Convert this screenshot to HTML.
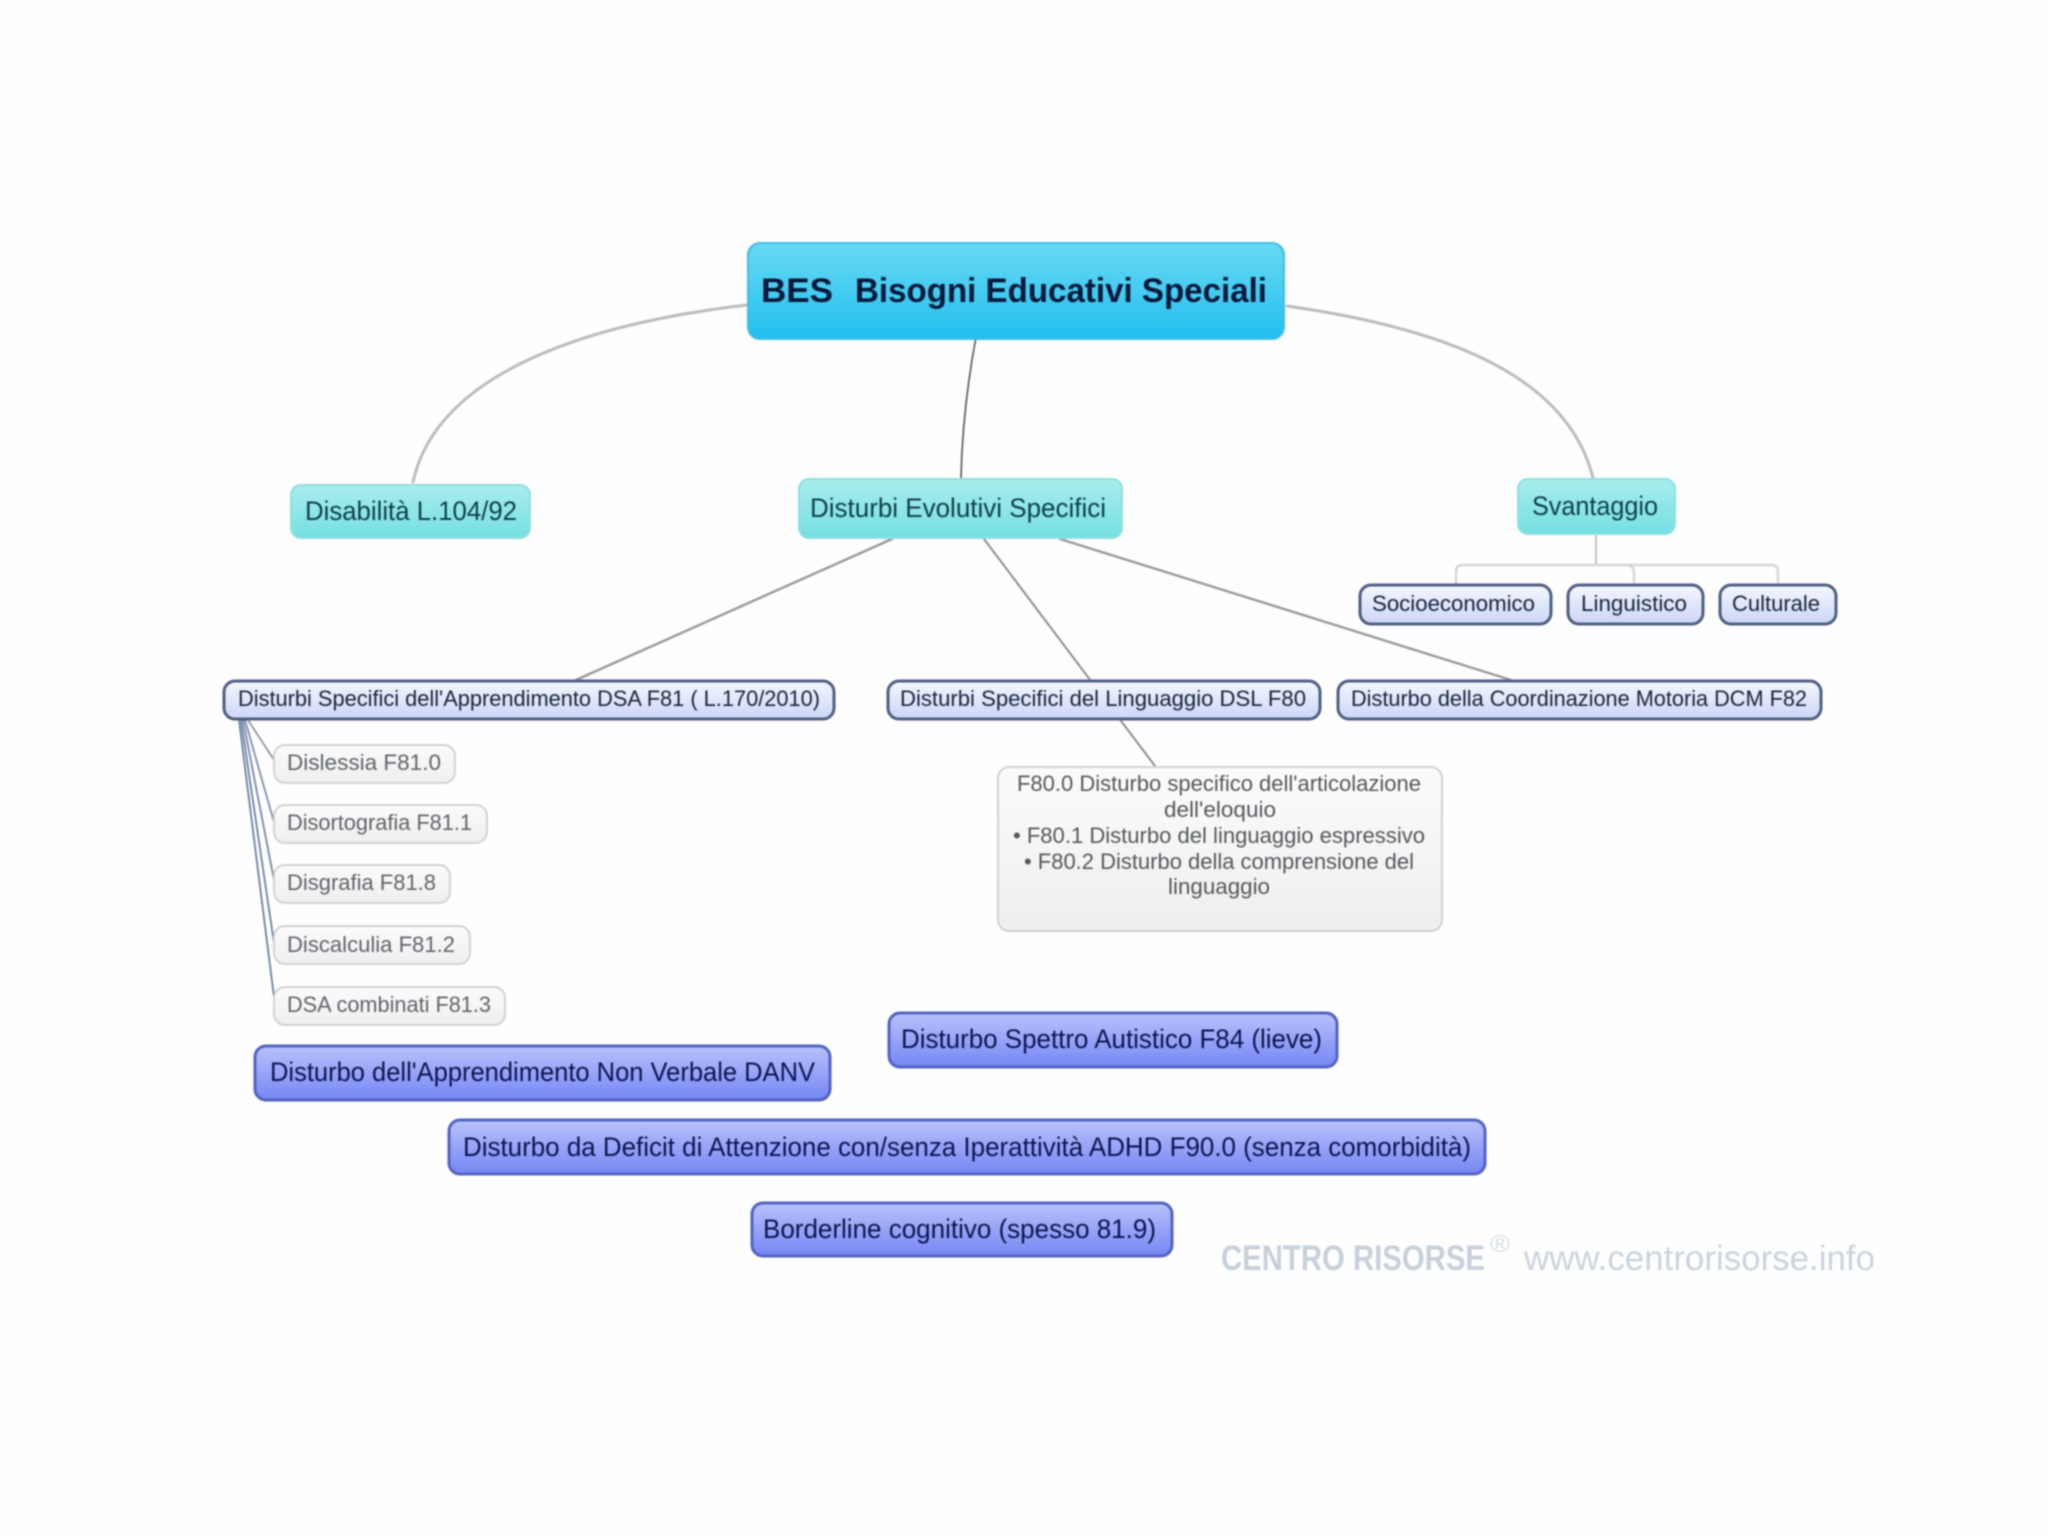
<!DOCTYPE html>
<html lang="it">
<head>
<meta charset="utf-8">
<title>BES Bisogni Educativi Speciali</title>
<style>
html,body{margin:0;padding:0;background:#fefefe;width:2048px;height:1536px;overflow:hidden}
svg{display:block;filter:blur(0.8px)}
text{font-family:"Liberation Sans",sans-serif}
.l1{font-size:27px;fill:#0e3f4a}
.bl{font-size:22px;fill:#18233c}
.gr{font-size:22px;fill:#60646a}
.pu{font-size:27px;fill:#0c1450}
.f{font-size:22px;fill:#54585c}
.wm{font-size:35px;fill:#c8d0dc;font-weight:700}
.ww{font-size:35px;fill:#cbd3de}
</style>
</head>
<body>
<svg xmlns="http://www.w3.org/2000/svg" width="2048" height="1536" viewBox="0 0 2048 1536">
<defs>
<linearGradient id="gRoot" x1="0" y1="0" x2="0" y2="1"><stop offset="0" stop-color="#68d9f3"/><stop offset="1" stop-color="#21bfee"/></linearGradient>
<linearGradient id="gL1" x1="0" y1="0" x2="0" y2="1"><stop offset="0" stop-color="#a9eded"/><stop offset="1" stop-color="#74dfe1"/></linearGradient>
<linearGradient id="gBl" x1="0" y1="0" x2="0" y2="1"><stop offset="0" stop-color="#f5f7fe"/><stop offset="1" stop-color="#ccd5f6"/></linearGradient>
<linearGradient id="gGr" x1="0" y1="0" x2="0" y2="1"><stop offset="0" stop-color="#fbfbfb"/><stop offset="1" stop-color="#eeeeee"/></linearGradient>
<linearGradient id="gPu" x1="0" y1="0" x2="0" y2="1"><stop offset="0" stop-color="#b8c2fb"/><stop offset="1" stop-color="#7585f3"/></linearGradient>
</defs>
<rect width="2048" height="1536" fill="#fefefe"/>

<!-- connectors -->
<g fill="none" stroke-linecap="round">
<path d="M747 305C600 322 438 368 413 482" stroke="#bcbcbe" stroke-width="3"/>
<path d="M1287 306C1420 325 1565 365 1593 478" stroke="#bcbcbe" stroke-width="3"/>
<path d="M976 337C968 380 962 430 961 478" stroke="#555" stroke-width="1.6"/>
<path d="M892 539L576 680" stroke="#999" stroke-width="2.4"/>
<path d="M984 539L1155 766" stroke="#8e8e8e" stroke-width="2"/>
<path d="M1060 539L1511 680" stroke="#999" stroke-width="2.4"/>
<path d="M1596 534V564" stroke="#c4c4c8" stroke-width="2"/>
<path d="M1456 584V572Q1456 565 1463 565H1771Q1778 565 1778 572V584M1626 565Q1634 565 1634 573V584" stroke="#d6d6da" stroke-width="2.4"/>
<path d="M248 720L274 760" stroke="#8d97a8" stroke-width="1.8"/>
<path d="M245 720L274 822" stroke="#7f8ea8" stroke-width="1.8"/>
<path d="M243 720L274 880" stroke="#7388a8" stroke-width="1.8"/>
<path d="M241 720L274 943" stroke="#6a80a8" stroke-width="1.8"/>
<path d="M239 720L274 997" stroke="#6a7fa0" stroke-width="1.8"/>
</g>

<!-- root -->
<rect x="748" y="243" width="536" height="96" rx="12" fill="url(#gRoot)" stroke="#3dbfe0" stroke-width="2"/>
<text x="761" y="302" font-size="34" font-weight="700" fill="#06183a" textLength="72" lengthAdjust="spacingAndGlyphs">BES</text>
<text x="855" y="302" font-size="34" font-weight="700" fill="#06183a" textLength="412" lengthAdjust="spacingAndGlyphs">Bisogni Educativi Speciali</text>

<!-- level 1 -->
<g fill="url(#gL1)" stroke="#8fdfe0" stroke-width="2">
<rect x="291" y="485" width="239" height="53" rx="10"/>
<rect x="799" y="479" width="323" height="59" rx="10"/>
<rect x="1518" y="479" width="157" height="55" rx="10"/>
</g>
<text class="l1" x="305" y="520" textLength="212" lengthAdjust="spacingAndGlyphs">Disabilità L.104/92</text>
<text class="l1" x="810" y="517" textLength="296" lengthAdjust="spacingAndGlyphs">Disturbi Evolutivi Specifici</text>
<text class="l1" x="1532" y="515" textLength="126" lengthAdjust="spacingAndGlyphs">Svantaggio</text>

<!-- blue outlined -->
<g fill="url(#gBl)" stroke="#4d5f80" stroke-width="3">
<rect x="1360" y="585" width="191" height="39" rx="11"/>
<rect x="1568" y="585" width="135" height="39" rx="11"/>
<rect x="1720" y="585" width="116" height="39" rx="11"/>
<rect x="224" y="681" width="610" height="38" rx="11"/>
<rect x="888" y="681" width="432" height="38" rx="11"/>
<rect x="1338" y="681" width="483" height="38" rx="11"/>
</g>
<text class="bl" x="1372" y="611" textLength="163" lengthAdjust="spacingAndGlyphs">Socioeconomico</text>
<text class="bl" x="1581" y="611" textLength="106" lengthAdjust="spacingAndGlyphs">Linguistico</text>
<text class="bl" x="1732" y="611" textLength="88" lengthAdjust="spacingAndGlyphs">Culturale</text>
<text class="bl" x="238" y="706" textLength="582" lengthAdjust="spacingAndGlyphs">Disturbi Specifici dell'Apprendimento DSA F81 ( L.170/2010)</text>
<text class="bl" x="900" y="706" textLength="406" lengthAdjust="spacingAndGlyphs">Disturbi Specifici del Linguaggio DSL F80</text>
<text class="bl" x="1351" y="706" textLength="456" lengthAdjust="spacingAndGlyphs">Disturbo della Coordinazione Motoria DCM F82</text>

<!-- gray -->
<g fill="url(#gGr)" stroke="#d2d2d2" stroke-width="2">
<rect x="274" y="745" width="181" height="38" rx="11"/>
<rect x="274" y="805" width="213" height="38" rx="11"/>
<rect x="274" y="865" width="176" height="38" rx="11"/>
<rect x="274" y="926" width="196" height="38" rx="11"/>
<rect x="274" y="987" width="231" height="38" rx="11"/>
<rect x="998" y="767" width="444" height="164" rx="11"/>
</g>
<text class="gr" x="287" y="770" textLength="154" lengthAdjust="spacingAndGlyphs">Dislessia F81.0</text>
<text class="gr" x="287" y="830" textLength="185" lengthAdjust="spacingAndGlyphs">Disortografia F81.1</text>
<text class="gr" x="287" y="890" textLength="149" lengthAdjust="spacingAndGlyphs">Disgrafia F81.8</text>
<text class="gr" x="287" y="952" textLength="168" lengthAdjust="spacingAndGlyphs">Discalculia F81.2</text>
<text class="gr" x="287" y="1012" textLength="204" lengthAdjust="spacingAndGlyphs">DSA combinati F81.3</text>

<text class="f" x="1017" y="791" textLength="404" lengthAdjust="spacingAndGlyphs">F80.0 Disturbo specifico dell'articolazione</text>
<text class="f" x="1164" y="817" textLength="112" lengthAdjust="spacingAndGlyphs">dell'eloquio</text>
<text class="f" x="1013" y="843" textLength="412" lengthAdjust="spacingAndGlyphs">• F80.1 Disturbo del linguaggio espressivo</text>
<text class="f" x="1024" y="869" textLength="390" lengthAdjust="spacingAndGlyphs">• F80.2 Disturbo della comprensione del</text>
<text class="f" x="1168" y="894" textLength="102" lengthAdjust="spacingAndGlyphs">linguaggio</text>

<!-- purple -->
<g fill="url(#gPu)" stroke="#5263c4" stroke-width="3">
<rect x="255" y="1046" width="575" height="54" rx="11"/>
<rect x="889" y="1013" width="448" height="54" rx="11"/>
<rect x="449" y="1120" width="1036" height="54" rx="11"/>
<rect x="752" y="1203" width="420" height="53" rx="11"/>
</g>
<text class="pu" x="270" y="1081" textLength="545" lengthAdjust="spacingAndGlyphs">Disturbo dell'Apprendimento Non Verbale DANV</text>
<text class="pu" x="901" y="1048" textLength="421" lengthAdjust="spacingAndGlyphs">Disturbo Spettro Autistico F84 (lieve)</text>
<text class="pu" x="463" y="1156" textLength="1008" lengthAdjust="spacingAndGlyphs">Disturbo da Deficit di Attenzione con/senza Iperattività ADHD F90.0 (senza comorbidità)</text>
<text class="pu" x="763" y="1238" textLength="393" lengthAdjust="spacingAndGlyphs">Borderline cognitivo (spesso 81.9)</text>

<!-- watermark -->
<text class="wm" x="1221" y="1270" textLength="264" lengthAdjust="spacingAndGlyphs">CENTRO RISORSE</text>
<text x="1490" y="1252" font-size="24" fill="#d5dbe4" textLength="20" lengthAdjust="spacingAndGlyphs">®</text>
<text class="ww" x="1524" y="1270" textLength="351" lengthAdjust="spacingAndGlyphs">www.centrorisorse.info</text>
</svg>
</body>
</html>
